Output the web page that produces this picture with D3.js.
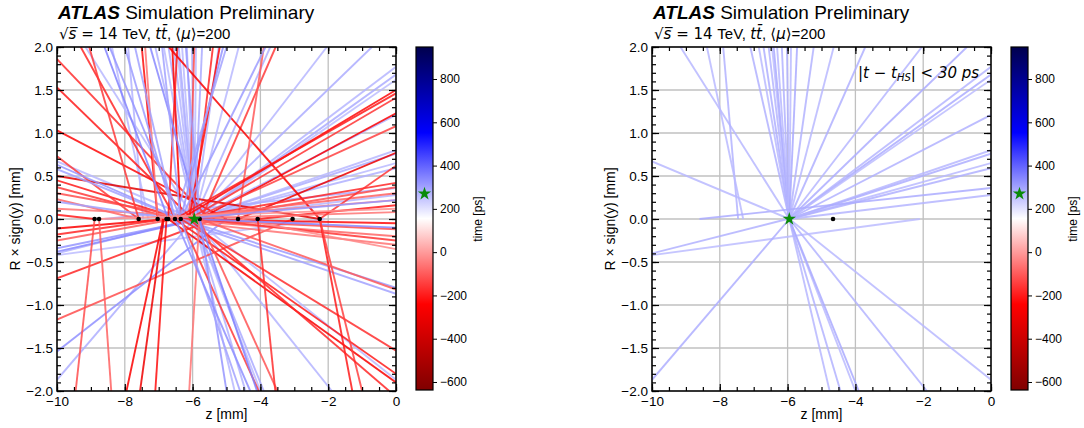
<!DOCTYPE html>
<html>
<head>
<meta charset="utf-8">
<script src="https://cdn.jsdelivr.net/npm/d3@7"></script>
<style>
body { margin: 0; background: #fff; }
text { font-family: "Liberation Sans", Arial, sans-serif; }
</style>
</head>
<body>
<script>
// axis / colour ranges and tick labels
var zTicks = [-10, -8, -6, -4, -2, 0];
var rTicks = [-2, -1.5, -1, -0.5, 0, 0.5, 1, 1.5, 2];
var timeTicks = [-600, -400, -200, 0, 200, 400, 600, 800];
var timeRange = [-637, 948];

// hard-scatter vertex (z, R) and its time
var hsVertex = [-5.95, 0.0];
var hsTime = 270;

// pile-up vertices (z positions, R = 0)
var puVertices = [-8.89, -8.76, -7.59, -7.03, -6.77, -6.72, -6.52, -6.35, -5.79, -4.66, -4.08, -3.05, -2.25];
// vertices shown in the timing-selected panel
var selVertices = [-4.66];

// tracks: [z start, R start, z end, R end, time ps]
// tracks compatible with the hard-scatter time
var hsTracks = [
  [-5.95, 0, -9.16, 2, 268], [-5.95, 0, -7.10, 2, 275], [-5.95, 0, -6.85, 2, 262],
  [-5.95, 0, -6.71, 2, 280], [-5.95, 0, -6.56, 2, 271], [-5.95, 0, -6.46, 2, 258],
  [-5.95, 0, -6.41, 2, 284], [-5.95, 0, -6.31, 2, 266], [-5.95, 0, -6.17, 2, 277],
  [-5.95, 0, -6.02, 2, 270], [-5.95, 0, -5.90, 2, 261], [-5.95, 0, -5.72, 2, 288],
  [-5.95, 0, -5.23, 2, 273], [-5.95, 0, -4.64, 2, 265], [-5.95, 0, -3.71, 2, 279],
  [-5.95, 0, -2.04, 2, 269], [-5.95, 0, -0.71, 2, 283],
  [-7.46, 0, -7.90, 2, 274], [-7.31, 0, -8.38, 2, 262],
  [-5.95, 0, 0, 1.77, 271], [-5.95, 0, 0, 1.68, 285], [-5.95, 0, 0, 1.62, 259],
  [-5.95, 0, 0, 1.21, 276], [-5.95, 0, 0, 0.80, 267], [-5.95, 0, 0, 0.76, 281],
  [-5.95, 0, 0, 0.65, 263], [-5.95, 0, 0, 0.59, 278], [-5.95, 0, 0, 0.28, 270],
  [-8.60, 0, 0, 0.36, 286],
  [-5.95, 0, -10, 0.67, 264], [-6.00, 0, -10, -0.40, 277], [-2.10, 0, -10, -0.42, 260],
  [-5.95, 0, -10, -1.87, 282],
  [-5.95, 0, -4.76, -2, 268], [-5.95, 0, -4.44, -2, 274], [-5.95, 0, -4.00, -2, 261],
  [-5.95, 0, -3.90, -2, 287], [-5.95, 0, -1.89, -2, 272], [-5.95, 0, 0, -1.87, 266]
];

// all other (pile-up) tracks
var puTracks = [
  [-2.25, 0, -10, 0.50, -330], [-6.35, 0, -10, 0.45, -200], [-6.52, 0, -10, 0.37, -150],
  [-5.79, 0, -10, 0.30, -120], [-6.72, 0, -10, -0.11, -250], [-6.77, 0, -10, -0.18, -180],
  [-6.52, 0, -10, -0.25, -100], [-4.08, 0, -10, 0.12, -60], [-7.59, 0, -10, 0.23, -80],
  [-8.89, 0, -10, 0.05, -200], [-5.50, 0, -10, 1.86, -170], [-6.00, 0, -10, 1.53, -200],
  [-5.00, 0, -10, 1.03, -230], [-7.59, 0, -10, 0.73, -150], [-5.35, 0, -10, -0.69, -180],
  [-3.05, 0, -10, -1.17, -120], [-5.00, 0, -10, -1.54, 330], [-6.35, 0, -10, 0.63, 320],
  [-6.35, 0, -10, 0.58, 300], [-6.52, 0, -10, 0.20, 300], [-5.79, 0, -10, -0.34, 320],
  [-5.79, 0, -10, -0.38, 340],
  [-6.50, 0, -9.30, 2, -180], [-7.59, 0, -9.05, 2, -150], [-7.03, 0, -7.50, 2, -220],
  [-6.35, 0, -6.60, 2, -250], [-6.72, 0, -6.45, 2, -200], [-6.10, 0, -5.95, 2, -120],
  [-6.00, 0, -5.40, 2, -180], [-6.10, 0, -5.20, 2, -220], [-5.75, 0, -3.55, 2, -150],
  [-2.25, 0, -6.70, 2, -260], [-4.66, 0, -3.90, 2, -100], [-7.03, 0, -7.40, 2, -60],
  [-6.35, 0, -8.45, 2, 320], [-6.52, 0, -8.00, 2, 310], [-6.52, 0, -7.70, 2, 300],
  [-5.79, 0, -7.25, 2, 340], [-6.35, 0, -6.90, 2, 300], [-5.79, 0, -6.20, 2, 310],
  [-6.35, 0, -5.10, 2, 320], [-6.52, 0, -5.00, 2, 300], [-6.35, 0, -3.85, 2, 310],
  [-6.72, 0, -8.60, 2, 350],
  [-6.35, 0, 0, 1.50, -230], [-6.52, 0, 0, 1.46, -200], [-6.10, 0, 0, 1.41, -160],
  [-5.79, 0, 0, 1.23, -250], [-6.00, 0, 0, 1.08, -140], [-4.66, 0, 0, 0.77, -300],
  [-6.35, 0, 0, 0.42, -180], [-5.79, 0, 0, 0.37, -120], [-6.72, 0, 0, 0.30, -90],
  [-4.08, 0, 0, 0.16, -200], [-6.52, 0, 0, 0.08, -60], [-2.25, 0, 0, 0.62, -160],
  [-7.03, 0, 0, 0.22, -40], [-8.76, 0, 0, 0.12, -20], [-6.35, 0, 0, 0.22, 320],
  [-6.35, 0, 0, -0.05, -220], [-6.52, 0, 0, -0.12, -120], [-6.77, 0, 0, -0.20, -80],
  [-5.79, 0, 0, -0.25, -160], [-7.03, 0, 0, -0.30, -60], [-4.66, 0, 0, -0.35, -30],
  [-5.95, 0, 0, -0.10, 340], [-6.35, 0, 0, -0.80, 310], [-6.52, 0, 0, -0.87, 300],
  [-6.35, 0, 0, -1.53, -170], [-6.52, 0, 0, -1.80, -200], [-6.72, 0, 0, -1.90, -260],
  [-2.25, 0, -1.29, -2, -200], [-2.25, 0, -1.00, -2, -140], [-5.79, 0, 0, -0.82, -100],
  [-6.10, 0, -0.20, -2, -180],
  [-8.89, 0, -9.45, -2, -120], [-8.76, 0, -8.40, -2, -90], [-6.87, 0, -7.95, -2, -250],
  [-6.85, 0, -7.55, -2, -290], [-6.77, 0, -7.10, -2, -220], [-5.80, 0, -6.10, -2, -60],
  [-6.35, 0, -4.05, -2, -150], [-5.80, 0, -3.50, -2, -110], [-4.08, 0, -3.56, -2, -170],
  [-5.79, 0, -5.00, -2, 320], [-6.35, 0, -4.60, -2, 300], [-6.52, 0, -4.30, -2, 330],
  [-5.80, 0, -4.10, -2, 350]
];

var width = 1084, height = 428;
var plotTop = 47, pw = 339, ph = 344;

var svg = d3.select("body").append("svg")
  .attr("width", width)
  .attr("height", height);

// seismic_r colour map
var tmid = (timeRange[0] + timeRange[1]) / 2, tq = (timeRange[1] - timeRange[0]) / 4;
var color = d3.scaleLinear()
  .domain([timeRange[0], timeRange[0] + tq, tmid, tmid + tq, timeRange[1]])
  .range(["#800000", "#ff0000", "#ffffff", "#0000ff", "#00004d"]);

var defs = svg.append("defs");
var grad = defs.append("linearGradient").attr("id", "cmap")
  .attr("x1", 0).attr("y1", 1).attr("x2", 0).attr("y2", 0);
grad.selectAll("stop").data(d3.range(0, 1.0001, 0.05)).join("stop")
  .attr("offset", function(d) { return d; })
  .attr("stop-color", function(d) { return color(timeRange[0] + d * (timeRange[1] - timeRange[0])); });

var star = d3.symbol().type(d3.symbolStar).size(55);

function drawPanel(x0, id, tracks, dots, note) {
  var x = d3.scaleLinear().domain([-10, 0]).range([0, pw]);
  var y = d3.scaleLinear().domain([-2, 2]).range([ph, 0]);
  var g = svg.append("g").attr("transform", "translate(" + x0 + "," + plotTop + ")");

  defs.append("clipPath").attr("id", id).append("rect")
    .attr("width", pw).attr("height", ph);

  // grid
  var grid = g.append("g").attr("stroke", "#c0c0c0").attr("stroke-width", 1.3);
  grid.selectAll(".gx").data(zTicks).join("line").attr("class", "gx")
    .attr("x1", function(d) { return x(d); }).attr("x2", function(d) { return x(d); })
    .attr("y1", 0).attr("y2", ph);
  grid.selectAll(".gy").data(rTicks).join("line").attr("class", "gy")
    .attr("y1", function(d) { return y(d); }).attr("y2", function(d) { return y(d); })
    .attr("x1", 0).attr("x2", pw);

  // tracks
  g.append("g").attr("clip-path", "url(#" + id + ")")
    .selectAll("line").data(tracks).join("line")
    .attr("x1", function(d) { return x(d[0]); })
    .attr("y1", function(d) { return y(d[1]); })
    .attr("x2", function(d) { return x(d[2]); })
    .attr("y2", function(d) { return y(d[3]); })
    .attr("stroke", function(d) { return color(d[4]); })
    .attr("stroke-width", 1.9)
    .attr("stroke-opacity", 0.85);

  // vertices
  g.append("g").selectAll("circle").data(dots).join("circle")
    .attr("cx", function(d) { return x(d); })
    .attr("cy", y(0))
    .attr("r", 2.3)
    .attr("fill", "#000");
  g.append("path").attr("d", star)
    .attr("transform", "translate(" + x(hsVertex[0]) + "," + y(hsVertex[1]) + ")")
    .attr("fill", "#0a8a0a");

  // axes, ticks pointing inside on all four sides
  var minorZ = d3.range(-10, 0.001, 0.5);
  var minorR = d3.range(-20, 21).map(function(i) { return i / 10; });
  var fmtZ = d3.format("d"), fmtR = d3.format(".1f");

  g.append("g").attr("transform", "translate(0," + ph + ")")
    .call(d3.axisBottom(x).tickValues(zTicks).tickSize(-7).tickPadding(5).tickFormat(fmtZ));
  g.append("g").attr("transform", "translate(0," + ph + ")")
    .call(d3.axisBottom(x).tickValues(minorZ).tickSize(-4).tickFormat(""));
  g.append("g")
    .call(d3.axisTop(x).tickValues(zTicks).tickSize(-7).tickFormat(""));
  g.append("g")
    .call(d3.axisTop(x).tickValues(minorZ).tickSize(-4).tickFormat(""));
  g.append("g")
    .call(d3.axisLeft(y).tickValues(rTicks).tickSize(-7).tickPadding(4).tickFormat(fmtR));
  g.append("g")
    .call(d3.axisLeft(y).tickValues(minorR).tickSize(-4).tickFormat(""));
  g.append("g").attr("transform", "translate(" + pw + ",0)")
    .call(d3.axisRight(y).tickValues(rTicks).tickSize(-7).tickFormat(""));
  g.append("g").attr("transform", "translate(" + pw + ",0)")
    .call(d3.axisRight(y).tickValues(minorR).tickSize(-4).tickFormat(""));

  g.selectAll(".domain").remove();
  g.selectAll(".tick line").attr("stroke", "#000").attr("stroke-width", 1.2);
  g.selectAll(".tick text").attr("font-size", 13.5).attr("fill", "#000")
    .style("font-family", "'Liberation Sans', Arial, sans-serif");

  g.append("rect").attr("width", pw).attr("height", ph)
    .attr("fill", "none").attr("stroke", "#000").attr("stroke-width", 1.5);

  // axis titles
  g.append("text").attr("x", pw / 2).attr("y", ph + 28)
    .attr("text-anchor", "middle").attr("font-size", 14).text("z [mm]");
  g.append("text")
    .attr("transform", "translate(-37," + ph / 2 + ") rotate(-90)")
    .attr("text-anchor", "middle").attr("font-size", 14).text("R \u00d7 sign(y) [mm]");

  // header
  var t1 = g.append("text").attr("x", 1).attr("y", -28).attr("font-size", 19);
  t1.append("tspan").attr("font-weight", "bold").attr("font-style", "italic").text("ATLAS");
  t1.append("tspan").text(" Simulation Preliminary");
  var t2 = g.append("text").attr("x", 2).attr("y", -8).attr("font-size", 15);
  t2.append("tspan").style("font-family", "'DejaVu Sans'").text("\u221a");
  t2.append("tspan").style("font-family", "'DejaVu Sans'").attr("font-style", "italic").text("s\u0305");
  t2.append("tspan").style("font-family", "'DejaVu Sans'").text(" = 14 ");
  t2.append("tspan").text("TeV, ");
  t2.append("tspan").style("font-family", "'DejaVu Sans'").attr("font-style", "italic").text("tt\u0304");
  t2.append("tspan").text(", ");
  t2.append("tspan").style("font-family", "'DejaVu Sans'").text("\u27e8");
  t2.append("tspan").style("font-family", "'DejaVu Sans'").attr("font-style", "italic").text("\u03bc");
  t2.append("tspan").style("font-family", "'DejaVu Sans'").text("\u27e9");
  t2.append("tspan").text("=200");

  if (note) {
    var t3 = g.append("text").attr("x", 206).attr("y", 31).attr("font-size", 15)
      .style("font-family", "'DejaVu Sans'").attr("font-style", "italic");
    t3.append("tspan").text("|t \u2212 t");
    t3.append("tspan").attr("font-size", 10).attr("dy", 3).text("HS");
    t3.append("tspan").attr("dy", -3).text("| < 30 ps");
  }

  // colour bar
  var cx = x0 + 359, cw = 17;
  var cy = d3.scaleLinear().domain(timeRange).range([plotTop + ph - 1, plotTop]);
  var cb = svg.append("g");
  cb.append("rect").attr("x", cx).attr("y", plotTop).attr("width", cw).attr("height", ph - 1)
    .attr("fill", "url(#cmap)").attr("stroke", "#000").attr("stroke-width", 1.2);
  cb.append("g").attr("transform", "translate(" + (cx + cw) + ",0)")
    .call(d3.axisRight(cy).tickValues(timeTicks).tickSize(4).tickPadding(3).tickFormat(d3.format("d")))
    .call(function(a) { a.select(".domain").remove(); })
    .selectAll("text").attr("font-size", 12)
    .style("font-family", "'Liberation Sans', Arial, sans-serif");
  cb.append("path").attr("d", star)
    .attr("transform", "translate(" + (cx + cw / 2) + "," + cy(hsTime) + ")")
    .attr("fill", "#0a8a0a");
  cb.append("text")
    .attr("transform", "translate(" + (cx + 66) + "," + (plotTop + ph / 2) + ") rotate(-90)")
    .attr("text-anchor", "middle").attr("font-size", 12).text("time [ps]");
}

drawPanel(57, "clipL", hsTracks.concat(puTracks), puVertices, false);
drawPanel(652, "clipR", hsTracks, selVertices, true);
</script>
</body>
</html>
